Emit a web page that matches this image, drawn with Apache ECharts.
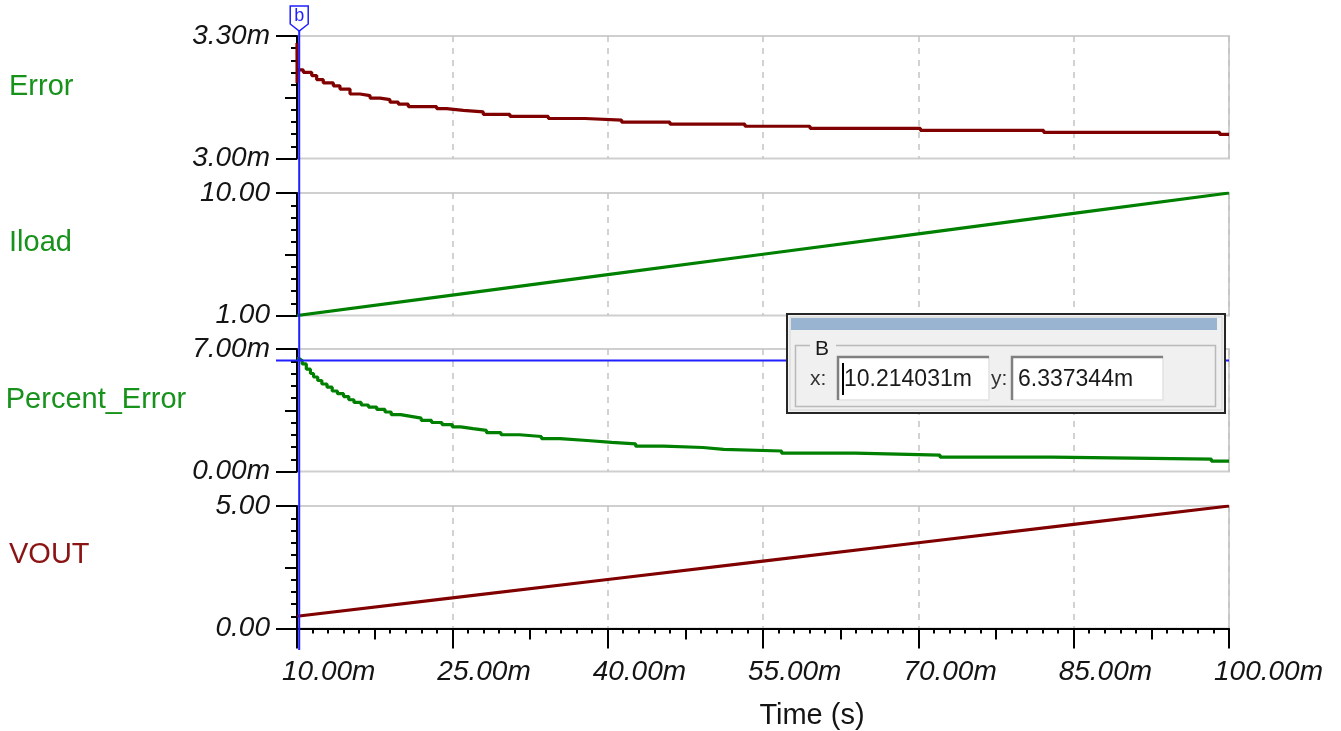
<!DOCTYPE html>
<html>
<head>
<meta charset="utf-8">
<script src="https://cdn.jsdelivr.net/npm/echarts@6/dist/echarts.min.js"></script>
<style>
  html, body { margin: 0; padding: 0; background: #ffffff; }
  #chart { width: 1341px; height: 731px; }
</style>
</head>
<body>
<div id="chart"></div>
<script>
// ---- Transient traces, time in ms ----
const X_MIN = 10, X_MAX = 100, X_STEP = 15;

// Error (m) — stepped decay
const errorTime  = [10.0, 10.01, 10.03, 10.61, 11.42, 11.90, 12.54, 13.51, 14.15, 15.12, 16.08, 17.05, 18.02, 18.98, 19.79, 20.75, 23.49, 24.45, 26.06, 27.99, 30.57, 34.27, 37.81, 41.35, 46.02, 53.26, 59.54, 70.2, 82.1, 99.1, 100];
const errorValue = [3.283, 3.185, 3.217, 3.211, 3.203, 3.193, 3.185, 3.178, 3.170, 3.158, 3.154, 3.148, 3.144, 3.138, 3.133, 3.127, 3.122, 3.118, 3.114, 3.108, 3.103, 3.098, 3.094, 3.089, 3.084, 3.079, 3.074, 3.069, 3.064, 3.059, 3.059];

// Iload — ramp
const iloadTime  = [10, 25, 40, 55, 70, 85, 100];
const iloadValue = [1.00, 2.50, 4.00, 5.50, 7.00, 8.50, 10.00];

// Percent_Error (m) — stepped decay
const pctTime  = [10.0, 10.2, 10.5, 10.9, 11.3, 11.6, 12.0, 12.4, 12.9, 13.4, 13.9, 14.5, 15.0, 15.5, 16.2, 16.9, 17.7, 18.5, 19.1, 20.0, 21.0, 22.0, 23.0, 24.0, 25.0, 25.8, 27.0, 28.3, 29.7, 31.5, 33.6, 35.4, 38.0, 40.4, 42.7, 45.4, 49.2, 51.2, 56.8, 63.9, 72.1, 82.9, 98.3, 100];
const pctValue = [6.45, 6.34, 6.15, 5.85, 5.60, 5.40, 5.20, 5.00, 4.82, 4.60, 4.45, 4.28, 4.10, 3.95, 3.80, 3.68, 3.55, 3.40, 3.25, 3.15, 3.05, 2.92, 2.80, 2.68, 2.55, 2.45, 2.35, 2.22, 2.10, 2.00, 1.88, 1.77, 1.66, 1.58, 1.45, 1.37, 1.26, 1.17, 1.05, 0.94, 0.82, 0.71, 0.59, 0.59];

// VOUT — ramp
const voutTime  = [10, 25, 40, 55, 70, 85, 100];
const voutValue = [0.50, 1.25, 2.00, 2.75, 3.50, 4.25, 5.00];

const traceNames = ['Error', 'Iload', 'Percent_Error', 'VOUT'];
const yMin   = [3.00, 1.00, 0.00, 0.00];
const yMax   = [3.30, 10.00, 7.00, 5.00];
const ySuffix = ['m', '', 'm', ''];

// Cursor B readout
const cursorX = 10.214031;
const cursorY = 6.337344;

// ---- Styling ----
const FONT = '"Liberation Sans", Arial, sans-serif';
const GREEN = '#008000', DARKRED = '#800000';
const traceColors = [DARKRED, GREEN, GREEN, DARKRED];
const nameColors  = ['#17921b', '#17921b', '#17921b', '#8a1414'];
const nameLift    = [20, 22, 20, 24];
const BLUE = '#1f1fff';
const GRID_LEFT = 297, GRID_RIGHT = 112, GRID_H = 122.5;
const gridTops = [36, 193, 349, 506];

const zip = (xs, ys) => xs.map((x, i) => [x, ys[i]]);

const grids = gridTops.map(top => ({
  left: GRID_LEFT, right: GRID_RIGHT, top: top, height: GRID_H,
  containLabel: false, outerBoundsMode: 'none',
  show: true, borderColor: '#cfcfcf', borderWidth: 2, backgroundColor: 'transparent'
}));

const xAxes = gridTops.map((_, i) => {
  const bottom = i === 3;
  return {
    type: 'value', gridIndex: i, min: X_MIN, max: X_MAX, interval: X_STEP,
    position: 'bottom',
    axisLine: { show: bottom, onZero: false, lineStyle: { color: '#000', width: 2 } },
    axisTick: { show: bottom, length: 20, lineStyle: { color: '#000', width: 2 } },
    minorTick: { show: bottom, splitNumber: 10, length: 5, lineStyle: { color: '#000', width: 2 } },
    axisLabel: {
      show: bottom, margin: 30, align: 'left', padding: [0, 0, 0, -15],
      fontFamily: FONT, fontStyle: 'italic', fontSize: 28, color: '#141414',
      formatter: v => v.toFixed(2) + 'm'
    },
    splitLine: { show: true, lineStyle: { color: '#c4c4c4', width: 1.5, type: [6, 6] } },
    name: bottom ? 'Time (s)' : '',
    nameLocation: 'middle', nameGap: 73,
    nameTextStyle: { fontFamily: FONT, fontSize: 29, color: '#141414', padding: [0, 0, 0, 98] }
  };
});
// mid-interval ticks on the time axis
xAxes.push({
  type: 'value', gridIndex: 3, min: X_MIN, max: X_MAX, interval: X_STEP / 2,
  position: 'bottom',
  axisLine: { show: false }, axisLabel: { show: false }, splitLine: { show: false },
  axisTick: { show: true, length: 11, lineStyle: { color: '#000', width: 2 } }
});

const yAxes = gridTops.map((_, i) => ({
  type: 'value', gridIndex: i, min: yMin[i], max: yMax[i], interval: yMax[i] - yMin[i],
  position: 'left',
  axisLine: { show: true, onZero: false, lineStyle: { color: '#000', width: 2 } },
  axisTick: { show: true, length: 21, lineStyle: { color: '#000', width: 2 } },
  minorTick: { show: true, splitNumber: 10, length: 6, lineStyle: { color: '#000', width: 2 } },
  axisLabel: {
    margin: 27, fontFamily: FONT, fontStyle: 'italic', fontSize: 28, color: '#141414',
    formatter: v => v.toFixed(2) + ySuffix[i]
  },
  splitLine: { show: false },
  name: traceNames[i], nameLocation: 'middle', nameRotate: 0, nameGap: 288,
  nameTextStyle: {
    align: 'left', verticalAlign: 'bottom', lineHeight: nameLift[i], fontFamily: FONT, fontSize: 29,
    color: nameColors[i]
  }
}));
// mid-range ticks on each value axis
gridTops.forEach((_, i) => {
  yAxes.push({
    type: 'value', gridIndex: i, min: yMin[i], max: yMax[i], interval: (yMax[i] - yMin[i]) / 2,
    position: 'left',
    axisLine: { show: false }, axisLabel: { show: false }, splitLine: { show: false },
    axisTick: { show: true, length: 12, lineStyle: { color: '#000', width: 2 } }
  });
});

const traceData = [
  zip(errorTime, errorValue),
  zip(iloadTime, iloadValue),
  zip(pctTime, pctValue),
  zip(voutTime, voutValue)
];
const stepped = [true, false, true, false];

const series = traceData.map((data, i) => ({
  type: 'line', name: traceNames[i], xAxisIndex: i, yAxisIndex: i,
  data: data, step: stepped[i] ? 'end' : false,
  showSymbol: false, symbol: 'none', silent: true, z: 3,
  lineStyle: { color: traceColors[i], width: 3.2 }
}));

const chart = echarts.init(document.getElementById('chart'), null, { renderer: 'canvas' });
chart.setOption({
  animation: false,
  backgroundColor: '#ffffff',
  grid: grids, xAxis: xAxes, yAxis: yAxes, series: series
});

// ---- Cursor B and its readout ----
const cx = chart.convertToPixel({ xAxisIndex: 0 }, cursorX);
const cy = chart.convertToPixel({ yAxisIndex: 2 }, cursorY);
const plotRight = 1341 - GRID_RIGHT;

const D = { x: 787, y: 314, w: 438, h: 99 };
const inputStyleText = { fontFamily: FONT, fontSize: 23, fill: '#1a1a1a' };

function inputBox(x, y, w, h, text) {
  return [
    { type: 'rect', shape: { x: x, y: y, width: w, height: h }, style: { fill: '#ffffff', stroke: '#e2e2e2', lineWidth: 1.5 }, z: 100 },
    { type: 'polyline', shape: { points: [[x, y + h], [x, y], [x + w, y]] }, style: { stroke: '#808080', lineWidth: 2.5, fill: null }, z: 101 },
    { type: 'text', x: x + 6, y: y + h / 2 + 1, style: Object.assign({ text: text, verticalAlign: 'middle' }, inputStyleText), z: 102 }
  ];
}

const graphics = [
  // vertical cursor line
  { type: 'line', shape: { x1: cx, y1: 30, x2: cx, y2: 650 }, style: { stroke: BLUE, lineWidth: 2 }, z: 50 },
  // horizontal level on Percent_Error
  { type: 'line', shape: { x1: 276, y1: cy, x2: plotRight, y2: cy }, style: { stroke: BLUE, lineWidth: 2 }, z: 50 },
  // cursor flag
  { type: 'polygon', shape: { points: [[cx - 9, 6], [cx + 9, 6], [cx + 9, 24], [cx, 31], [cx - 9, 24]] },
    style: { fill: '#ffffff', stroke: BLUE, lineWidth: 1.5 }, z: 51 },
  { type: 'text', x: cx, y: 16, style: { text: 'b', fontFamily: FONT, fontSize: 18, fill: BLUE, align: 'center', verticalAlign: 'middle' }, z: 52 },

  // readout window
  { type: 'rect', shape: { x: D.x, y: D.y, width: D.w, height: D.h }, style: { fill: '#f0f0f0', stroke: '#262626', lineWidth: 2 }, z: 100 },
  { type: 'rect', shape: { x: D.x + 3, y: D.y + 3, width: D.w - 6, height: D.h - 6 }, style: { fill: null, stroke: '#d4d4d4', lineWidth: 1 }, z: 100 },
  { type: 'rect', shape: { x: 791, y: 318, width: 426, height: 12 }, style: { fill: '#99b4d1' }, z: 101 },
  { type: 'rect', shape: { x: 795.5, y: 345.5, width: 420, height: 61 }, style: { fill: null, stroke: '#b9b9b9', lineWidth: 1.5 }, z: 100 },
  { type: 'rect', shape: { x: 810, y: 338, width: 26, height: 14 }, style: { fill: '#f0f0f0' }, z: 101 },
  { type: 'text', x: 815, y: 349, style: { text: 'B', fontFamily: FONT, fontSize: 21, fill: '#1a1a1a', verticalAlign: 'middle' }, z: 102 },
  { type: 'text', x: 810, y: 379, style: { text: 'x:', fontFamily: FONT, fontSize: 21, fill: '#333', verticalAlign: 'middle' }, z: 102 },
  { type: 'text', x: 991, y: 379, style: { text: 'y:', fontFamily: FONT, fontSize: 21, fill: '#333', verticalAlign: 'middle' }, z: 102 },
  ...inputBox(838, 357, 151, 43, cursorX.toFixed(6) + 'm'),
  ...inputBox(1012, 357, 151, 43, cursorY.toFixed(6) + 'm'),
  // text caret
  { type: 'line', shape: { x1: 843, y1: 363, x2: 843, y2: 395 }, style: { stroke: '#000', lineWidth: 2 }, z: 103 }
];

chart.setOption({ graphic: graphics });
</script>
</body>
</html>
